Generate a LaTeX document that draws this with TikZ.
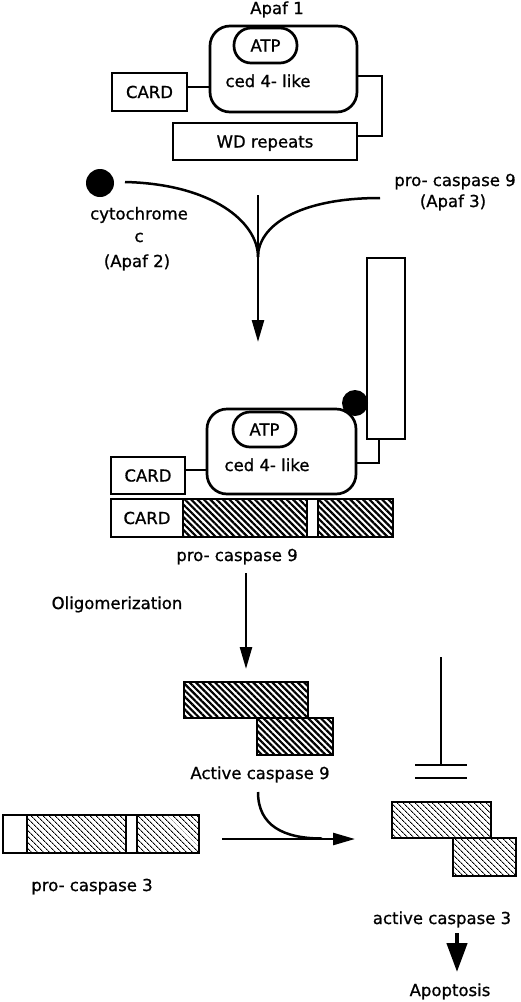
\documentclass[tikz,border=0pt]{standalone}
\usepackage{fontspec}
\setmainfont{DejaVu Sans}[FakeBold=0.9]
\usetikzlibrary{arrows.meta,patterns.meta}
\newcommand\lbfont{\fontsize{16.5}{19}\selectfont}
\tikzset{
  lbl/.style={inner sep=0pt, anchor=base, font=\lbfont},
  boxline/.style={draw, line width=2.7pt, inner sep=0pt, font=\lbfont, text height=12pt, text depth=0pt},
  roundbox/.style={boxline, rounded corners=20pt},
  pill/.style={boxline, rounded corners=17pt, minimum width=63pt, minimum height=35pt},
  hatchbold/.style={boxline, pattern={Lines[angle=-45,distance=4.5pt,line width=2.2pt]}},
  hatchthin/.style={boxline, pattern={Lines[angle=-45,distance=4pt,line width=1pt]}},
  conn/.style={line width=2.5pt},
  arr/.style={conn, -{Triangle[length=22pt,width=12pt]}},
  dot/.style={circle, fill=black, inner sep=0pt},
}
\begin{document}
\begin{tikzpicture}[x=1pt,y=-1pt]
\useasboundingbox (0,0) rectangle (520,1002);

% ---------- Apaf 1 ----------
\node[lbl] (apaf1) at (277,14) {Apaf 1};
\node[roundbox, minimum width=147pt, minimum height=86pt] (ced1) at (283.5,69) {};
\node[pill] (atp1) at (265.5,45.5) {ATP};
\node[lbl] (cedtxt1) at (268,87) {ced 4- like};
\node[boxline, minimum width=75pt, minimum height=38pt] (card1) at (149.5,92) {CARD};
\node[boxline, minimum width=184pt, minimum height=37pt] (wd) at (265,141.5) {WD repeats};

\coordinate (c1a) at (187,87);
\coordinate (c1b) at (210,87);
\draw[conn] (c1a) -- (c1b);
\coordinate (w1) at (357,76);
\coordinate (w2) at (382,76);
\coordinate (w3) at (382,136);
\coordinate (w4) at (357,136);
\draw[conn] (w1) -- (w2) -- (w3) -- (w4);

% ---------- inputs ----------
\node[dot, minimum size=28pt] (cyt) at (100,183) {};
\node[lbl] (cyttxt) at (139,219.5) {cytochrome};
\node[lbl] (ctxt) at (139,242) {c};
\node[lbl] (apaf2) at (137,267) {(Apaf 2)};
\node[lbl] (pc9txt) at (455,186) {pro- caspase 9};
\node[lbl] (apaf3) at (453,207) {(Apaf 3)};

\coordinate (lstart) at (125,182);
\coordinate (rstart) at (380,198);
\coordinate (meet) at (258,257);
\coordinate (a1s) at (258,195);
\coordinate (a1e) at (258,342);
\draw[conn] (lstart) .. controls (212,184) and (258,222) .. (meet);
\draw[conn] (rstart) .. controls (298,198) and (258,226) .. (meet);
\draw[arr] (a1s) -- (a1e);

% ---------- complex ----------
\node[boxline, minimum width=38pt, minimum height=181pt] (tall) at (386,348.5) {};
\node[roundbox, minimum width=149pt, minimum height=85pt] (ced2) at (281.5,451.5) {};
\node[pill] (atp2) at (264.5,429.5) {ATP};
\node[lbl] (cedtxt2) at (267,471) {ced 4- like};
\node[dot, minimum size=26pt] (cyt2) at (355,403) {};
\node[boxline, minimum width=74pt, minimum height=37pt] (card2) at (148,475.5) {CARD};
\node[boxline, minimum width=72pt, minimum height=38pt] (card3) at (147,518) {CARD};
\node[hatchbold, minimum width=124pt, minimum height=38pt] (h9a) at (245,518) {};
\node[boxline, minimum width=11pt, minimum height=38pt] (gap9) at (312.5,518) {};
\node[hatchbold, minimum width=75pt, minimum height=38pt] (h9b) at (355.5,518) {};
\node[lbl] (pc9mid) at (237,561) {pro- caspase 9};

\coordinate (c2a) at (185,470);
\coordinate (c2b) at (207,470);
\draw[conn] (c2a) -- (c2b);
\coordinate (t1) at (356,463);
\coordinate (t2) at (379,463);
\coordinate (t3) at (379,439);
\draw[conn] (t1) -- (t2) -- (t3);

% ---------- oligomerization ----------
\node[lbl] (olig) at (117,609) {Oligomerization};
\coordinate (a2s) at (246,573);
\coordinate (a2e) at (246,669);
\draw[arr] (a2s) -- (a2e);

\node[hatchbold, minimum width=124pt, minimum height=36pt] (act9a) at (246,700) {};
\node[hatchbold, minimum width=76pt, minimum height=37pt] (act9b) at (295,736.5) {};
\node[lbl] (act9txt) at (260,779) {Active caspase 9};

% ---------- inhibition ----------
\coordinate (i1) at (441,657);
\coordinate (i2) at (441,765);
\coordinate (b1l) at (415,765);
\coordinate (b1r) at (467,765);
\coordinate (b2l) at (415,778);
\coordinate (b2r) at (467,778);
\draw[conn] (i1) -- (i2);
\draw[conn] (b1l) -- (b1r);
\draw[conn] (b2l) -- (b2r);

% ---------- caspase 3 ----------
\node[boxline, minimum width=24pt, minimum height=38pt] (p3w1) at (15,834) {};
\node[hatchthin, minimum width=99pt, minimum height=38pt] (p3h1) at (76.5,834) {};
\node[boxline, minimum width=11pt, minimum height=38pt] (p3w2) at (131.5,834) {};
\node[hatchthin, minimum width=62pt, minimum height=38pt] (p3h2) at (168,834) {};
\node[lbl] (pc3txt) at (92,891) {pro- caspase 3};

\coordinate (cv1) at (258,792);
\coordinate (cv2) at (322,838.5);
\draw[conn] (cv1) .. controls (258,826) and (284,838.5) .. (cv2);
\coordinate (a3s) at (222,839);
\coordinate (a3e) at (355,839);
\draw[arr] (a3s) -- (a3e);

\node[hatchthin, minimum width=99pt, minimum height=36pt] (act3a) at (441.5,820) {};
\node[hatchthin, minimum width=63pt, minimum height=38pt] (act3b) at (484.5,857) {};
\node[lbl] (act3txt) at (442,924) {active caspase 3};

\coordinate (a4s) at (457,933);
\coordinate (a4e) at (457,972);
\draw[line width=4.5pt, -{Triangle[length=29pt,width=20pt]}] (a4s) -- (a4e);
\node[lbl] (apop) at (450,996) {Apoptosis};
\end{tikzpicture}
\end{document}
